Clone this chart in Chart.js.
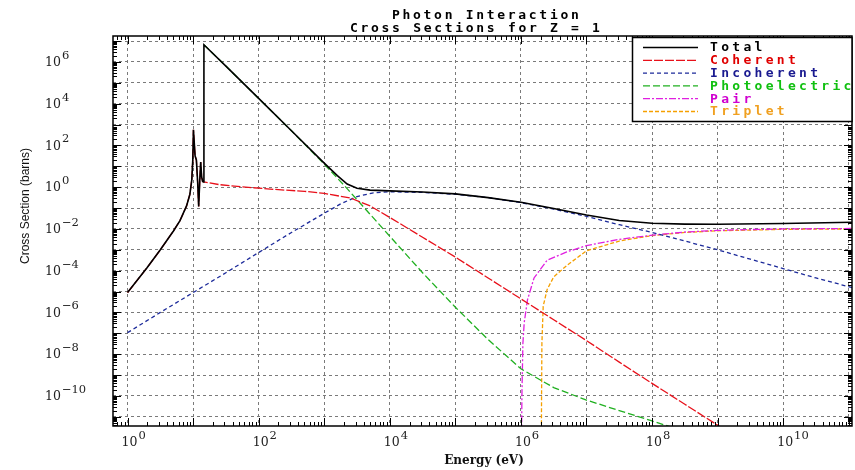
<!DOCTYPE html>
<html>
<head>
<meta charset="utf-8">
<script src="https://cdn.jsdelivr.net/npm/chart.js@4.4.0/dist/chart.umd.min.js"></script>
<style>
  html, body { margin: 0; background: #fff; }
</style>
</head>
<body>
<canvas id="xsChart" width="855" height="470"></canvas>
<script>
const E_MIN = 10 ** -0.2, E_MAX = 10 ** 11.05;
const S_MIN = 10 ** -11.44, S_MAX = 10 ** 7.24;

// Tick labels: powers of ten shown on each axis
const xTickExps = [0, 2, 4, 6, 8, 10];
const yTickExps = [6, 4, 2, 0, -2, -4, -6, -8, -10];

const titleLines = ['Photon Interaction', 'Cross Sections for Z = 1'];
const seriesNames = ['Total', 'Coherent', 'Incoherent', 'Photoelectric', 'Pair', 'Triplet'];

// Series, as log10(energy / eV) and log10(sigma / barns)
const totalLogE = [0, 0.3, 0.5, 0.7, 0.8, 0.9, 0.95, 0.98, 0.995, 1.005, 1.03, 1.05, 1.07, 1.085, 1.1, 1.116, 1.13, 1.145, 1.16,
  1.165, 1.5, 2.0, 2.5, 3.0, 3.2, 3.35, 3.5, 3.7, 4.0, 4.5, 5.0, 5.5, 6.0, 6.5, 7.0, 7.5, 8.0, 8.5, 9.0, 10.0, 11.1];
const totalLogS = [-5.05, -3.85, -3.0, -2.1, -1.6, -0.9, -0.35, 0.35, 1.3, 2.75, 1.5, 1.3, 0.2, -0.92, 0.2, 1.2, 0.5, 0.27, 0.25,
  6.82, 5.8, 4.25, 2.7, 1.15, 0.55, 0.15, -0.05, -0.14, -0.18, -0.23, -0.32, -0.5, -0.72, -1.02, -1.33, -1.6, -1.73, -1.77, -1.78, -1.74, -1.68];

const coherentLogE = [0, 0.3, 0.5, 0.7, 0.8, 0.9, 0.95, 0.98, 0.995, 1.005, 1.03, 1.05, 1.07, 1.085, 1.1, 1.116, 1.13, 1.145, 1.16,
  1.4, 1.8, 2.3, 2.7, 3.0, 3.4, 3.7, 4.0, 4.5, 5.0, 5.5, 6.0, 6.5, 7.0, 7.5, 8.0, 8.5, 9.0, 9.3];
const coherentLogS = [-5.05, -3.85, -3.0, -2.1, -1.6, -0.9, -0.35, 0.35, 1.3, 2.75, 1.5, 1.3, 0.2, -0.92, 0.2, 1.2, 0.5, 0.27, 0.25,
  0.12, 0.0, -0.12, -0.2, -0.3, -0.52, -0.9, -1.45, -2.4, -3.35, -4.35, -5.35, -6.35, -7.35, -8.38, -9.4, -10.4, -11.4, -12.0];

const incoherentLogE = [0, 0.5, 1.0, 1.5, 2.0, 2.5, 3.0, 3.25, 3.5, 3.75, 4.0, 4.5, 5.0, 5.5, 6.0, 6.5, 7.0, 7.5, 8.0, 8.5, 9.0, 9.5, 10.0, 10.5, 11.1];
const incoherentLogS = [-6.97, -6.0, -5.05, -4.1, -3.13, -2.17, -1.25, -0.8, -0.45, -0.27, -0.22, -0.25, -0.34, -0.5, -0.74, -1.05, -1.4, -1.8, -2.17, -2.58, -3.0, -3.45, -3.9, -4.35, -4.85];

const photoLogE = [1.165, 1.5, 2.0, 2.5, 3.0, 3.3, 3.5, 4.0, 4.5, 5.0, 5.5, 6.0, 6.5, 7.0, 7.5, 8.0, 8.5, 9.0];
const photoLogS = [6.82, 5.8, 4.25, 2.7, 1.1, 0.1, -0.6, -2.35, -4.1, -5.75, -7.3, -8.7, -9.6, -10.2, -10.7, -11.2, -11.7, -12.2];

const pairLogE = [6.009, 6.015, 6.03, 6.05, 6.1, 6.2, 6.4, 6.7, 7.0, 7.5, 8.0, 8.5, 9.0, 9.5, 10.0, 11.1];
const pairLogS = [-12.5, -10.0, -7.5, -6.5, -5.4, -4.35, -3.5, -3.1, -2.8, -2.5, -2.3, -2.15, -2.07, -2.03, -2.0, -1.98];

const tripletLogE = [6.311, 6.315, 6.32, 6.34, 6.4, 6.5, 6.7, 7.0, 7.5, 8.0, 8.5, 9.0, 10.0, 11.1];
const tripletLogS = [-12.5, -10.0, -7.5, -5.7, -4.9, -4.3, -3.75, -3.05, -2.58, -2.32, -2.17, -2.09, -2.02, -2.0];

const toPoints = (le, ls) => le.map((e, i) => ({ x: 10 ** e, y: 10 ** ls[i] }));

const lineStyles = [
  { color: '#000000', text: '#000000', width: 1.6, dash: [] },
  { color: '#e8101a', text: '#e00000', width: 1.3, dash: [9, 2] },
  { color: '#1c2a9a', text: '#1a1a90', width: 1.3, dash: [4, 3] },
  { color: '#20b020', text: '#10c010', width: 1.3, dash: [7, 3] },
  { color: '#e020e0', text: '#d000d0', width: 1.3, dash: [7, 2, 2, 2] },
  { color: '#f5a000', text: '#f0a020', width: 1.3, dash: [4, 2] }
];

const seriesData = [
  toPoints(totalLogE, totalLogS),
  toPoints(coherentLogE, coherentLogS),
  toPoints(incoherentLogE, incoherentLogS),
  toPoints(photoLogE, photoLogS),
  toPoints(pairLogE, pairLogS),
  toPoints(tripletLogE, tripletLogS)
];

const datasets = seriesNames.map((name, i) => ({
  label: name,
  data: seriesData[i],
  borderColor: lineStyles[i].color,
  borderWidth: lineStyles[i].width,
  borderDash: lineStyles[i].dash,
  showLine: true,
  fill: false,
  pointRadius: 0,
  tension: 0
}));

function decadeTicks(lo, hi) {
  const ticks = [];
  for (let d = Math.ceil(Math.log10(lo)); d <= Math.floor(Math.log10(hi)); d++) ticks.push({ value: 10 ** d });
  return ticks;
}

// "10" with a raised exponent
function drawPower(ctx, exp, x, y, align) {
  const base = '10';
  const sup = String(exp).replace('-', '\u2212');
  ctx.font = '12.5px "DejaVu Serif"';
  const wb = ctx.measureText(base).width;
  const left = align === 'center' ? x - wb / 2 : x;
  ctx.textAlign = 'left';
  ctx.textBaseline = 'middle';
  ctx.fillText(base, left, y);
  ctx.font = '11.5px "DejaVu Serif"';
  ctx.fillText(sup, left + wb + 1, y - 7);
}

const decorPlugin = {
  id: 'decor',
  afterDraw(chart) {
    const { ctx, chartArea: a, scales: { x, y } } = chart;
    ctx.save();

    // frame
    ctx.strokeStyle = '#000';
    ctx.lineWidth = 1.5;
    ctx.strokeRect(a.left, a.top, a.right - a.left, a.bottom - a.top);

    // inward tick marks on all four sides
    ctx.lineWidth = 1;
    ctx.beginPath();
    for (let d = -1; d <= 11; d++) {
      for (let m = 1; m < 10; m++) {
        const v = m * 10 ** d;
        if (v < E_MIN || v > E_MAX) continue;
        const px = Math.round(x.getPixelForValue(v)) + 0.5;
        const len = m === 1 ? 8 : 4;
        ctx.moveTo(px, a.bottom); ctx.lineTo(px, a.bottom - len);
        ctx.moveTo(px, a.top); ctx.lineTo(px, a.top + len);
      }
    }
    for (let d = -12; d <= 7; d++) {
      for (let m = 1; m < 10; m++) {
        const v = m * 10 ** d;
        if (v < S_MIN || v > S_MAX) continue;
        const py = Math.round(y.getPixelForValue(v)) + 0.5;
        const len = m === 1 ? 8 : 4;
        ctx.moveTo(a.left, py); ctx.lineTo(a.left + len, py);
        ctx.moveTo(a.right, py); ctx.lineTo(a.right - len, py);
      }
    }
    ctx.stroke();

    // tick labels
    ctx.fillStyle = '#222';
    xTickExps.forEach(e => drawPower(ctx, e, x.getPixelForValue(10 ** e) + 2, 443, 'center'));
    yTickExps.forEach(e => drawPower(ctx, e, 45, y.getPixelForValue(10 ** e) + 1, 'left'));

    // axis titles
    ctx.fillStyle = '#111';
    ctx.font = 'bold 12px "DejaVu Serif"';
    ctx.textAlign = 'center';
    ctx.textBaseline = 'middle';
    ctx.fillText('Energy (eV)', 484, 461);
    ctx.save();
    ctx.translate(26, 206);
    ctx.rotate(-Math.PI / 2);
    ctx.font = '12px "Liberation Sans"';
    ctx.fillText('Cross Section (barns)', 0, 0);
    ctx.restore();

    // chart title
    ctx.font = 'bold 13px "DejaVu Sans Mono"';
    ctx.letterSpacing = '2.7px';
    ctx.textAlign = 'left';
    ctx.textBaseline = 'alphabetic';
    ctx.fillStyle = '#000';
    ctx.fillText(titleLines[0], 392, 19);
    ctx.fillText(titleLines[1], 350, 32);

    // legend box
    ctx.letterSpacing = '0px';
    ctx.fillStyle = '#fff';
    ctx.fillRect(632.5, 37.5, a.right - 632.5, 84);
    ctx.strokeStyle = '#000';
    ctx.lineWidth = 1.5;
    ctx.strokeRect(632.5, 37.5, a.right - 632.5, 84);
    ctx.font = 'bold 13px "DejaVu Sans Mono"';
    ctx.letterSpacing = '3.3px';
    ctx.textBaseline = 'middle';
    seriesNames.forEach((name, i) => {
      const ly = 47.5 + i * 12.8;
      const st = lineStyles[i];
      ctx.strokeStyle = st.color;
      ctx.lineWidth = st.width;
      ctx.setLineDash(st.dash);
      ctx.beginPath();
      ctx.moveTo(643, ly);
      ctx.lineTo(698, ly);
      ctx.stroke();
      ctx.setLineDash([]);
      ctx.fillStyle = st.text;
      ctx.fillText(name, 710, ly + 0.5);
    });
    ctx.restore();
  }
};

new Chart(document.getElementById('xsChart'), {
  type: 'scatter',
  data: { datasets },
  options: {
    responsive: false,
    animation: false,
    layout: { padding: { top: 36, right: 3, bottom: 0, left: 0 } },
    plugins: {
      legend: { display: false },
      title: { display: false },
      tooltip: { enabled: false }
    },
    scales: {
      x: {
        type: 'logarithmic',
        min: E_MIN,
        max: E_MAX,
        afterBuildTicks: s => { s.ticks = decadeTicks(E_MIN, E_MAX); },
        afterFit: s => { s.height = 44; },
        ticks: { display: false },
        grid: { color: '#7a7a7a', lineWidth: 1, drawTicks: false },
        border: { display: false, dash: [3, 3] }
      },
      y: {
        type: 'logarithmic',
        min: S_MIN,
        max: S_MAX,
        afterBuildTicks: s => { s.ticks = decadeTicks(S_MIN, S_MAX); },
        afterFit: s => { s.width = 113; },
        ticks: { display: false },
        grid: { color: '#7a7a7a', lineWidth: 1, drawTicks: false },
        border: { display: false, dash: [3, 3] }
      }
    }
  },
  plugins: [decorPlugin]
});
</script>
</body>
</html>
